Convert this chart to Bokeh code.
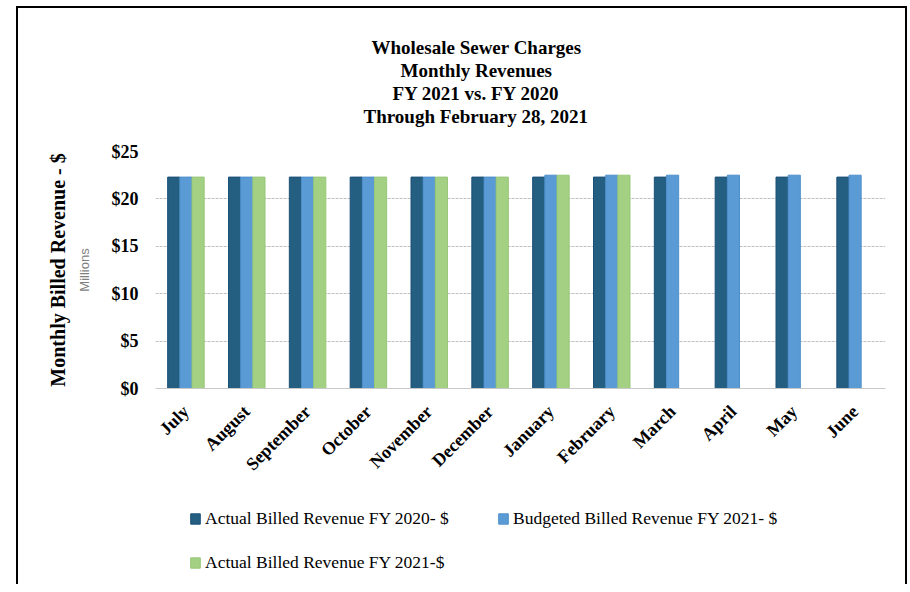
from bokeh.plotting import figure
from bokeh.layouts import column
from bokeh.models import (ColumnDataSource, FactorRange, Range1d, Legend, LegendItem, Title,
                          NumeralTickFormatter, FixedTicker, LinearAxis)
from bokeh.transform import dodge
from bokeh.embed import file_html
from bokeh.resources import INLINE
import math

months = ["July", "August", "September", "October", "November", "December",
          "January", "February", "March", "April", "May", "June"]
actual_fy2020 = [22.3, 22.3, 22.3, 22.3, 22.3, 22.3, 22.3, 22.3, 22.3, 22.3, 22.3, 22.3]
budget_fy2021 = [22.3, 22.3, 22.3, 22.3, 22.3, 22.3, 22.5, 22.5, 22.5, 22.5, 22.5, 22.5]
actual_fy2021 = [22.3, 22.3, 22.3, 22.3, 22.3, 22.3, 22.5, 22.5,
                 float("nan"), float("nan"), float("nan"), float("nan")]
series_names = ["Actual Billed Revenue FY 2020- $", "Budgeted Billed Revenue FY 2021- $",
                "Actual Billed Revenue FY 2021-$"]
y_ticks = [0, 5, 10, 15, 20, 25]
title_lines = ["Wholesale Sewer Charges", "Monthly Revenues", "FY 2021 vs. FY 2020",
               "Through February 28, 2021"]

colors = ["#245E81", "#5B9BD5", "#A3D083"]
edges = ["#1B5078", "#4D8FCB", "#97C777"]
cols = ["a20", "b21", "a21"]
offsets = [-0.2, 0.0, 0.2]
SERIF = "Liberation Serif"

src = ColumnDataSource(dict(month=months, a20=actual_fy2020, b21=budget_fy2021, a21=actual_fy2021))

x_range = FactorRange(*months, range_padding=0)
p = figure(x_range=x_range, y_range=Range1d(0, 25),
           width=887, height=490, output_backend="svg", toolbar_location=None,
           min_border_left=137, min_border_right=20, min_border_top=143, min_border_bottom=110)
p.outline_line_color = None
p.background_fill_color = "white"
p.border_fill_color = "white"

for col, off, c, e in zip(cols, offsets, colors, edges):
    p.vbar(x=dodge("month", off, range=x_range), top=col, width=0.2, source=src,
           fill_color=c, line_color=e, line_width=1)

# x axis
p.xaxis.axis_line_color = "#C8C8C8"
p.xaxis.major_tick_line_color = None
p.xaxis.minor_tick_line_color = None
p.xaxis.major_tick_out = 0
p.xaxis.major_tick_in = 0
p.xaxis.major_label_orientation = math.pi / 4
p.xaxis.major_label_text_font = SERIF
p.xaxis.major_label_text_font_style = "bold"
p.xaxis.major_label_text_font_size = "18px"
p.xaxis.major_label_text_color = "#000000"
p.xaxis.major_label_standoff = 20

# y axis (ticks + "Millions")
p.yaxis.ticker = FixedTicker(ticks=y_ticks)
p.yaxis.formatter = NumeralTickFormatter(format="$0")
p.yaxis.axis_line_color = None
p.yaxis.major_tick_line_color = None
p.yaxis.minor_tick_line_color = None
p.yaxis.major_tick_out = 0
p.yaxis.major_tick_in = 0
p.yaxis.major_label_text_font = SERIF
p.yaxis.major_label_text_font_style = "bold"
p.yaxis.major_label_text_font_size = "18px"
p.yaxis.major_label_text_color = "#000000"
p.yaxis.major_label_standoff = 17
p.yaxis.axis_label = "Millions"
p.yaxis.axis_label_text_font = "Liberation Sans"
p.yaxis.axis_label_text_font_style = "normal"
p.yaxis.axis_label_text_font_size = "13px"
p.yaxis.axis_label_text_color = "#7F7F7F"
p.yaxis.axis_label_standoff = 17

# outer y axis carrying the main axis title
ax2 = LinearAxis(ticker=FixedTicker(ticks=[]), axis_line_color=None,
                 major_tick_line_color=None, minor_tick_line_color=None,
                 major_tick_out=0, major_tick_in=0, major_label_standoff=0,
                 axis_label="Monthly Billed Revenue - $", axis_label_standoff=5,
                 axis_label_text_font=SERIF, axis_label_text_font_style="bold",
                 axis_label_text_font_size="20px", axis_label_text_color="#000000")
p.add_layout(ax2, "left")

p.xgrid.grid_line_color = None
p.ygrid.grid_line_color = "#BFBFBF"
p.ygrid.grid_line_dash = "3 1"

# spacer between the plot and the title block
p.add_layout(Title(text=" ", text_font_size="1px", standoff=22), "above")
# title lines, stacked upwards from the plot; centred at the chart's centre via offsets
title_offsets = [216, 245, 237, 208]
for t, off in reversed(list(zip(title_lines, title_offsets))):
    p.add_layout(Title(text=t, align="left", offset=off, standoff=0,
                       text_font=SERIF, text_font_style="bold", text_font_size="19px",
                       text_color="#000000"), "above")

# legend strip underneath the chart (its frame is aligned with the chart's frame);
# the swatch renderers use the same series but lie outside this strip's visible range
q = figure(x_range=x_range, y_range=Range1d(100, 101), width=887, height=86,
           output_backend="svg", toolbar_location=None,
           x_axis_location=None, y_axis_location=None,
           min_border_left=0, min_border_right=0, min_border_top=0, min_border_bottom=0)
q.outline_line_color = None
q.grid.visible = False
q.background_fill_color = "white"
q.border_fill_color = "white"
swatches = [q.vbar(x=dodge("month", off, range=x_range), top=col, width=0.2, source=src,
                   fill_color=c, line_color=e)
            for col, off, c, e in zip(cols, offsets, colors, edges)]
legend = Legend(items=[LegendItem(label=n, renderers=[r]) for n, r in zip(series_names, swatches)],
                location=(34, 11), orientation="horizontal", ncols=2,
                glyph_width=12, glyph_height=13, label_standoff=4, label_width=270,
                label_height=22, spacing=22, padding=0, margin=0,
                label_text_font=SERIF, label_text_font_size="17.5px", label_text_color="#000000",
                border_line_color=None, background_fill_alpha=0)
q.add_layout(legend)

layout = column(p, q, spacing=0)
layout.styles = {"border-top": "2px solid #000", "border-left": "2px solid #000",
                 "border-right": "2px solid #000", "margin-left": "16px", "margin-top": "6px"}

open("out.html", "w").write(file_html(layout, INLINE))
